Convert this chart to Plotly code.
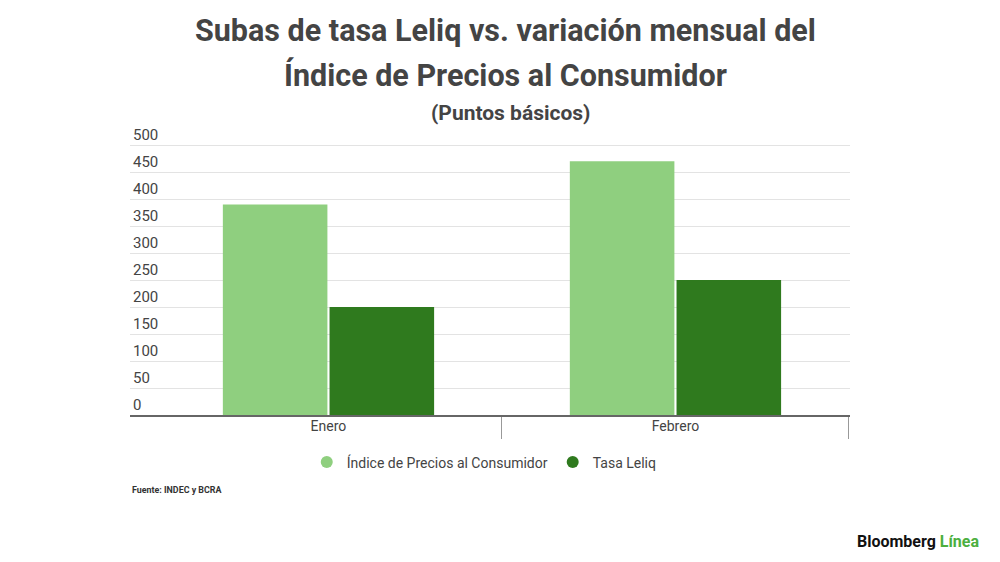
import plotly.graph_objects as go

# datos (puntos basicos)
meses = ['Enero', 'Febrero']
ipc = [390, 470]
leliq = [200, 250]
series = ['Índice de Precios al Consumidor', 'Tasa Leliq']
colores = ['#8fcf7f', '#2f7a1e']
y_ticks = [0, 50, 100, 150, 200, 250, 300, 350, 400, 450, 500]

fig = go.Figure()
for nombre, valores, color in zip(series, [ipc, leliq], colores):
    fig.add_trace(go.Bar(x=meses, y=valores, name=nombre, marker_color=color,
                         marker_line_width=0, showlegend=False))
    # marcador redondo solo para la leyenda
    fig.add_trace(go.Scatter(x=[None], y=[None], mode='markers', name=nombre,
                             marker=dict(color=color, size=12, symbol='circle')))

# la pagina tiene 8px de margen en el body, se compensa en los margenes
fig.update_layout(
    width=1000, height=562,
    paper_bgcolor='white', plot_bgcolor='white',
    font=dict(family='Roboto', color='#444444', size=14),
    margin=dict(l=122, r=158, t=110, b=155, autoexpand=False),
    barmode='group', bargap=0.385, bargroupgap=0.02,
    showlegend=True,
    legend=dict(orientation='h', x=0.492, xanchor='center', y=-0.106, yanchor='top',
                font=dict(size=14, color='#444444'), itemwidth=30),
)

fig.update_xaxes(
    range=[-0.572, 1.503], showgrid=False, automargin=False,
    showline=True, linecolor='#666666', linewidth=1.5,
    ticks='outside', tickson='boundaries', ticklen=22, tickcolor='#999999',
    ticklabelstandoff=-3,
    tickfont=dict(size=14, color='#444444'), fixedrange=True,
)
fig.update_yaxes(
    range=[0, 550], tickvals=y_ticks, showgrid=True, gridcolor='#e3e3e3',
    zeroline=False, showline=False, ticks='', automargin=False,
    ticklabelposition='inside top', tickfont=dict(size=15, color='#444444'),
    fixedrange=True,
)

fig.add_annotation(text='<b>Subas de tasa Leliq vs. variación mensual del</b>',
                   xref='paper', yref='paper', x=0.522, y=1.0, yshift=88, yanchor='middle',
                   showarrow=False, font=dict(size=30.5, color='#444444'))
fig.add_annotation(text='<b>Índice de Precios al Consumidor</b>',
                   xref='paper', yref='paper', x=0.522, y=1.0, yshift=43, yanchor='middle',
                   showarrow=False, font=dict(size=30.5, color='#444444'))
fig.add_annotation(text='<b>(Puntos básicos)</b>',
                   xref='paper', yref='paper', x=0.528, y=1.0, yshift=5, yanchor='middle',
                   showarrow=False, font=dict(size=21, color='#444444'))
fig.add_annotation(text='<b>Fuente: INDEC y BCRA</b>',
                   xref='paper', yref='paper', x=0.0, xanchor='left', y=0, yshift=-75,
                   yanchor='middle', xshift=0,
                   showarrow=False, font=dict(size=8.9, color='#333333'))
fig.add_annotation(text='<b><span style="color:#111111">Bloomberg</span> '
                        '<span style="color:#4caf3f">Línea</span></b>',
                   xref='paper', yref='paper', x=1.0, xanchor='left', y=0, yshift=-126,
                   yanchor='middle', xshift=5, showarrow=False, font=dict(size=16))

fig.write_html('out.html')
